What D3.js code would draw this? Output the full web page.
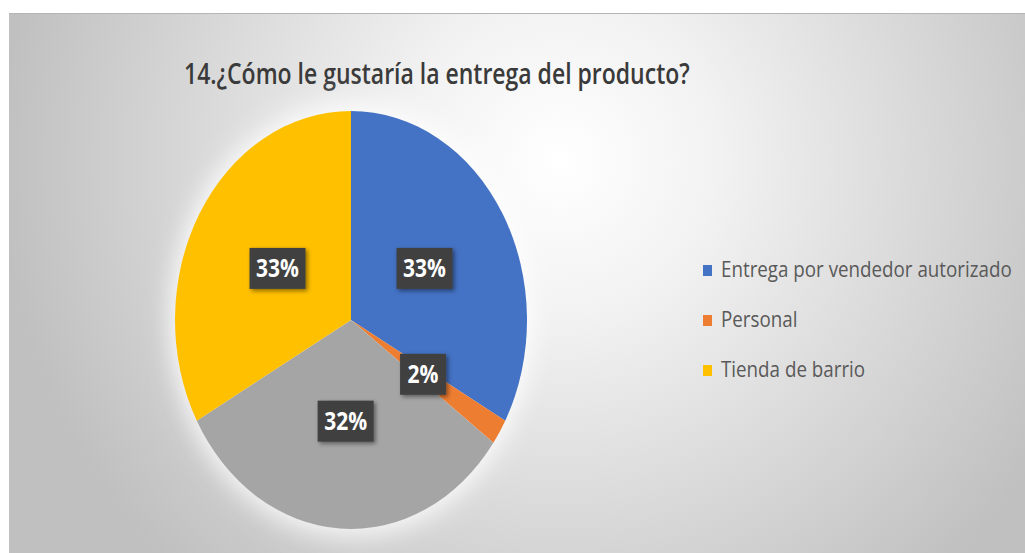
<!DOCTYPE html>
<html>
<head>
<meta charset="utf-8">
<script src="https://cdn.jsdelivr.net/npm/d3@7"></script>
<style>
  html, body { margin: 0; padding: 0; background: #ffffff; }
  svg { display: block; }
</style>
</head>
<body>
<svg id="chart" width="1025" height="553"></svg>
<script>
// Survey question 14: preferred way to receive the product
const title = "14.¿Cómo le gustaría la entrega del producto?";
const categories = ["Entrega por vendedor autorizado", "Personal", "", "Tienda de barrio"];
const values = [33, 2, 32, 33];
const labels = ["33%", "2%", "32%", "33%"];
const colors = ["#4472C4", "#ED7D31", "#A5A5A5", "#FFC000"];

const W = 1025, H = 553;
const svg = d3.select("#chart");
const defs = svg.append("defs");

// soft radial backdrop
const bg = defs.append("radialGradient")
  .attr("id", "bgGrad").attr("gradientUnits", "userSpaceOnUse")
  .attr("cx", 560).attr("cy", 160).attr("r", 560);
bg.append("stop").attr("offset", 0).attr("stop-color", "#ffffff");
bg.append("stop").attr("offset", 0.28).attr("stop-color", "#f2f2f2");
bg.append("stop").attr("offset", 1).attr("stop-color", "#c0c0c0");

const glow = defs.append("filter").attr("id", "glow")
  .attr("x", "-30%").attr("y", "-30%").attr("width", "160%").attr("height", "160%");
glow.append("feGaussianBlur").attr("stdDeviation", 14);

const shadow = defs.append("filter").attr("id", "boxShadow")
  .attr("x", "-30%").attr("y", "-30%").attr("width", "160%").attr("height", "160%");
shadow.append("feDropShadow").attr("dx", 2).attr("dy", 2).attr("stdDeviation", 2)
  .attr("flood-color", "#000").attr("flood-opacity", 0.45);

const area = { x: 9, y: 13, w: W - 9, h: H - 13 };
svg.append("rect").attr("x", area.x).attr("y", area.y)
  .attr("width", area.w).attr("height", area.h).attr("fill", "url(#bgGrad)");
svg.append("line").attr("x1", area.x).attr("x2", W).attr("y1", area.y + 0.5).attr("y2", area.y + 0.5)
  .attr("stroke", "#b5b5b5").attr("stroke-width", 1);

const fontFamily = "'Open Sans', 'Noto Sans', sans-serif";

// Title (horizontally condensed to fit its box)
const titleText = svg.append("text")
  .attr("font-family", fontFamily).attr("font-size", 29).attr("font-weight", 600)
  .attr("fill", "#3a3a3a").text(title);
const titleW = titleText.node().getComputedTextLength();
titleText.attr("transform", `translate(184,84) scale(${506 / titleW},1)`);

// Pie geometry: slightly oval
const cx = 351, cy = 320, R = 209, sx = 176 / 209;
const pie = d3.pie().sort(null).value(d => d)(values);
const arc = d3.arc().innerRadius(0).outerRadius(R);
const labelArc = d3.arc().innerRadius(R * 0.485).outerRadius(R * 0.485);

const pieG = svg.append("g").attr("transform", `translate(${cx},${cy}) scale(${sx},1)`);
pieG.append("ellipse").attr("cx", 0).attr("cy", 0).attr("rx", R + 6).attr("ry", R + 6)
  .attr("fill", "#ffffff").attr("opacity", 0.9).attr("filter", "url(#glow)");
pieG.selectAll("path.slice").data(pie).join("path")
  .attr("class", "slice")
  .attr("d", arc)
  .attr("fill", (d, i) => colors[i]);

// Data labels: dark boxes with white text
const labG = svg.append("g");
pie.forEach((d, i) => {
  const [lx, ly] = labelArc.centroid(d);
  const px = cx + lx * sx, py = cy + ly;
  const g = labG.append("g").attr("transform", `translate(${px},${py})`);
  const bw = labels[i].length > 2 ? 56 : 46, bh = 41;
  g.append("rect").attr("x", -bw / 2).attr("y", -bh / 2).attr("width", bw).attr("height", bh)
    .attr("fill", "#404040").attr("filter", "url(#boxShadow)");
  g.append("text")
    .attr("transform", "scale(0.84,1)")
    .attr("text-anchor", "middle").attr("dy", "0.36em")
    .attr("font-family", fontFamily).attr("font-size", 25).attr("font-weight", 700)
    .attr("fill", "#ffffff").text(labels[i]);
});

// Legend
const legendItems = categories.map((c, i) => ({ name: c, color: colors[i] })).filter(d => d.name !== "");
const legend = svg.append("g").attr("transform", "translate(703,277)");
const rowGap = 50;
const rows = legend.selectAll("g.item").data(legendItems).join("g")
  .attr("class", "item").attr("transform", (d, i) => `translate(0,${i * rowGap})`);
rows.append("rect").attr("x", 0).attr("y", -12).attr("width", 9).attr("height", 11)
  .attr("fill", d => d.color);
const legendTexts = rows.append("text")
  .attr("font-family", fontFamily).attr("font-size", 22).attr("fill", "#595959")
  .text(d => d.name);
const firstW = legendTexts.node().getComputedTextLength();
const lk = 291 / firstW;
legendTexts.attr("transform", `translate(18,0) scale(${lk},1)`);
</script>
</body>
</html>
